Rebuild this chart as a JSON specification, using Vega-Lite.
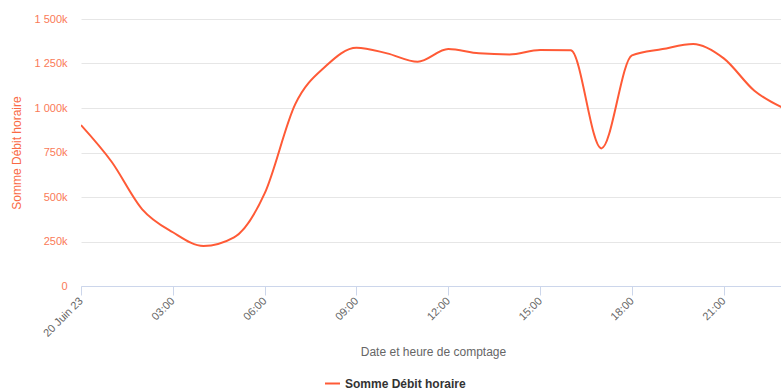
{
  "$schema": "https://vega.github.io/schema/vega-lite/v6.json",
  "width": 704,
  "height": 267,
  "autosize": {"type": "none"},
  "padding": {"left": 81, "top": 19, "right": 0, "bottom": 106},
  "background": "white",
  "config": {
    "view": {"stroke": null},
    "font": "Liberation Sans"
  },
  "data": {
    "values": [
      {"date": "2023-06-20T00:00:00Z", "debit": 904000},
      {"date": "2023-06-20T01:00:00Z", "debit": 698000},
      {"date": "2023-06-20T02:00:00Z", "debit": 431000},
      {"date": "2023-06-20T03:00:00Z", "debit": 302000},
      {"date": "2023-06-20T04:00:00Z", "debit": 225000},
      {"date": "2023-06-20T05:00:00Z", "debit": 273000},
      {"date": "2023-06-20T06:00:00Z", "debit": 520000},
      {"date": "2023-06-20T07:00:00Z", "debit": 1022000},
      {"date": "2023-06-20T08:00:00Z", "debit": 1236000},
      {"date": "2023-06-20T09:00:00Z", "debit": 1339000},
      {"date": "2023-06-20T10:00:00Z", "debit": 1307000},
      {"date": "2023-06-20T11:00:00Z", "debit": 1260000},
      {"date": "2023-06-20T12:00:00Z", "debit": 1331000},
      {"date": "2023-06-20T13:00:00Z", "debit": 1307000},
      {"date": "2023-06-20T14:00:00Z", "debit": 1301000},
      {"date": "2023-06-20T15:00:00Z", "debit": 1326000},
      {"date": "2023-06-20T16:00:00Z", "debit": 1324000},
      {"date": "2023-06-20T17:00:00Z", "debit": 773000},
      {"date": "2023-06-20T18:00:00Z", "debit": 1296000},
      {"date": "2023-06-20T19:00:00Z", "debit": 1331000},
      {"date": "2023-06-20T20:00:00Z", "debit": 1360000},
      {"date": "2023-06-20T21:00:00Z", "debit": 1279000},
      {"date": "2023-06-20T22:00:00Z", "debit": 1097000},
      {"date": "2023-06-20T23:00:00Z", "debit": 995000}
    ]
  },
  "mark": {"type": "line", "interpolate": "monotone", "strokeWidth": 2, "clip": true},
  "encoding": {
    "x": {
      "field": "date",
      "type": "temporal",
      "scale": {
        "type": "utc",
        "domain": [
          {"year": 2023, "month": 6, "date": 20, "hours": 0, "utc": true},
          {"year": 2023, "month": 6, "date": 20, "hours": 23, "utc": true}
        ]
      },
      "axis": {
        "title": "Date et heure de comptage",
        "titleColor": "#666666",
        "titleFontSize": 12,
        "titleFontWeight": "normal",
        "titlePadding": 8,
        "values": [
          {"year": 2023, "month": 6, "date": 20, "hours": 0, "utc": true},
          {"year": 2023, "month": 6, "date": 20, "hours": 3, "utc": true},
          {"year": 2023, "month": 6, "date": 20, "hours": 6, "utc": true},
          {"year": 2023, "month": 6, "date": 20, "hours": 9, "utc": true},
          {"year": 2023, "month": 6, "date": 20, "hours": 12, "utc": true},
          {"year": 2023, "month": 6, "date": 20, "hours": 15, "utc": true},
          {"year": 2023, "month": 6, "date": 20, "hours": 18, "utc": true},
          {"year": 2023, "month": 6, "date": 20, "hours": 21, "utc": true}
        ],
        "labelExpr": "utcFormat(datum.value, '%H:%M') == '00:00' ? '20 Juin 23' : utcFormat(datum.value, '%H:%M')",
        "labelAngle": -45,
        "labelAlign": "right",
        "labelBaseline": "middle",
        "labelColor": "#666666",
        "labelFontSize": 11,
        "labelPadding": 4,
        "labelOverlap": false,
        "labelFlush": false,
        "grid": false,
        "domainColor": "#ccd6eb",
        "tickColor": "#ccd6eb",
        "tickSize": 9
      }
    },
    "y": {
      "field": "debit",
      "type": "quantitative",
      "scale": {"domain": [0, 1500000]},
      "axis": {
        "title": "Somme Débit horaire",
        "titleColor": "#fa6a45",
        "titleFontSize": 12,
        "titleFontWeight": "normal",
        "titlePadding": 10,
        "values": [0, 250000, 500000, 750000, 1000000, 1250000, 1500000],
        "labelExpr": "datum.value == 0 ? '0' : replace(format(datum.value / 1000, ','), ',', ' ') + 'k'",
        "labelColor": "#fa7a58",
        "labelFontSize": 11,
        "labelPadding": 14,
        "ticks": false,
        "domain": false,
        "gridColor": "#e6e6e6"
      }
    },
    "color": {
      "datum": "Somme Débit horaire",
      "scale": {"range": ["#ff5a36"]},
      "legend": {
        "title": null,
        "orient": "none",
        "legendX": 243,
        "legendY": 356,
        "symbolType": "stroke",
        "symbolStrokeWidth": 2,
        "symbolSize": 225,
        "labelFontSize": 12,
        "labelFontWeight": "bold",
        "labelColor": "#333333",
        "labelLimit": 300
      }
    }
  }
}
